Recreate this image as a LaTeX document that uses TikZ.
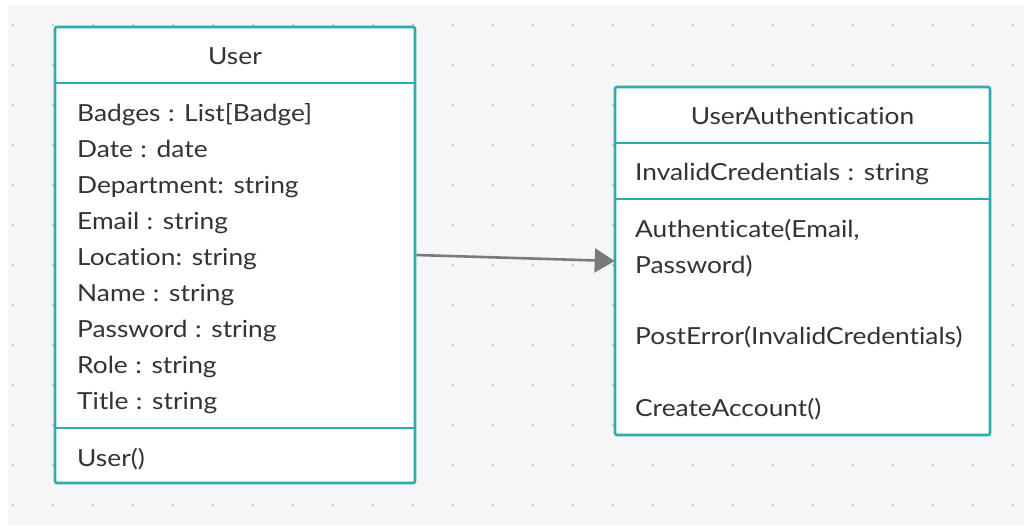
\documentclass[tikz,border=0pt]{standalone}
\usepackage{fontspec}
\setmainfont{Lato}[FakeStretch=1.12,WordSpace=1.1,Ligatures=NoCommon]
\usepackage{xcolor}
\usepackage{tikz}
\usetikzlibrary{arrows.meta,positioning}
\definecolor{umlc}{HTML}{2EABAD}
\definecolor{textc}{HTML}{333333}
\definecolor{gridbg}{HTML}{F6F6F8}
\definecolor{dotc}{HTML}{CBCBCF}
\definecolor{arrc}{HTML}{7A7A7A}
\tikzset{
  cls/.style={draw=umlc,line width=2.6pt,rounded corners=2pt,fill=white,inner sep=0pt},
  sep/.style={draw=umlc,line width=2.6pt},
  ar/.style={-{Triangle[length=20pt,width=24pt]},line width=2.6pt,arrc,shorten >=-1pt},
  lbl/.style={anchor=base west,font=\fontsize{23.5}{28}\selectfont,textc,inner sep=0pt},
  ttl/.style={lbl,anchor=base}
}

\begin{document}
\begin{tikzpicture}[x=1pt,y=-1pt]
\useasboundingbox (0,0) rectangle (1024,525);
\fill[white] (0,0) rectangle (1024,525);
\fill[gridbg] (8,5) rectangle (1024,525);
\foreach \gx in {0,...,25}
  \foreach \gy in {0,...,12}
    \fill[dotc] ({13+40*\gx},{25+40*\gy}) circle (1.3pt);
% class User
\node[cls,minimum width=360pt,minimum height=456pt] (user) at (235,255) {};
\draw[sep] (55,83) -- (415,83);
\draw[sep] (55,428) -- (415,428);
\node[ttl] (usertitle) at (235,64) {User};
\foreach \t [count=\i] in {Badges : List[Badge],Date : date,Department: string,
  Email : string,Location: string,Name : string,Password : string,Role : string,Title : string}
  \node[lbl] (uattr\i) at (77,{121+36*(\i-1)}) {\t};
\node[lbl] (uop) at (77,466) {User()};
% class UserAuthentication
\node[cls,minimum width=375pt,minimum height=348pt] (auth) at (802.5,261) {};
\draw[sep] (615,143) -- (990,143);
\draw[sep] (615,199) -- (990,199);
\node[ttl] (authtitle) at (802.5,124) {UserAuthentication};
\node[lbl] (aattr) at (635,180) {InvalidCredentials : string};
\node[lbl] (aop1) at (635,237) {Authenticate(Email,};
\node[lbl] (aop1b) at (635,273) {Password)};
\node[lbl] (aop2) at (635,344) {PostError(InvalidCredentials)};
\node[lbl] (aop3) at (635,416) {CreateAccount()};
% association
\draw[ar] (user.east) -- (auth.west);
\end{tikzpicture}
\end{document}
